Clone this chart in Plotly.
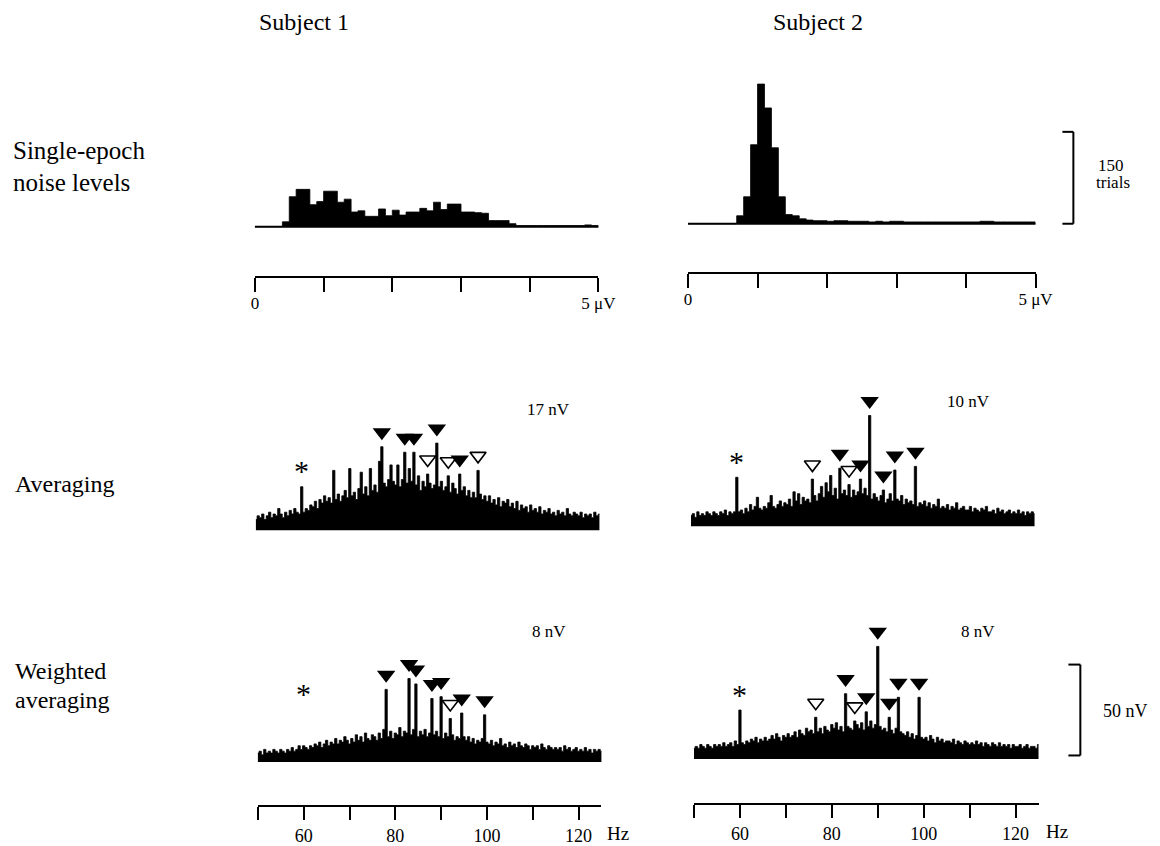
import plotly.graph_objects as go

W, H = 1160, 846          # reference pixel frame used for placing everything
FIG_W, FIG_H = 1177, 846  # rendered figure size (the capture is compressed horizontally)
SERIF = "Liberation Serif, Times New Roman, serif"

# ---------------- data ----------------
# single-epoch noise-level histograms (0.1 uV bins, counts in trials)
hist_bin_centers_uv = [round(0.05 + 0.1 * i, 2) for i in range(50)]
hist_subject1_trials = [0, 0, 0, 0, 8, 49, 61, 61, 36, 41, 58, 58, 40, 45, 24, 26, 17, 17, 29, 18,
                        27, 19, 24, 24, 30, 26, 40, 28, 37, 37, 24, 24, 23, 22, 10, 10, 10, 5, 2, 2,
                        2, 2, 2, 2, 2, 2, 2, 2, 3, 2]
hist_subject2_trials = [0, 0, 0, 0, 0, 0, 0, 13, 44, 129, 228, 189, 124, 44, 15, 13, 8, 6, 5, 5,
                        4, 5, 5, 4, 4, 4, 3, 4, 3, 4, 4, 3, 3, 3, 3, 3, 3, 3, 3, 3,
                        3, 3, 4, 4, 3, 3, 3, 3, 3, 3]
hist_tick_vals = [0, 1, 2, 3, 4, 5]
hist_tick_text = ["0", "", "", "", "", "5 \u03bcV"]

# amplitude spectra, 50-125 Hz in 0.5 Hz steps (nV)
freqs_hz = [50 + 0.5 * i for i in range(151)]
spec_s1_avg = [6, 8, 7, 9, 6, 8, 10, 7, 9, 8, 12,
               9, 7, 10, 8, 11, 9, 12, 10, 9, 24,
               10, 12, 11, 14, 13, 16, 12, 17, 15, 19,
               16, 18, 15, 33, 17, 20, 16, 19, 22, 18,
               34, 19, 21, 17, 23, 32, 20, 24, 19, 34,
               22, 25, 21, 38, 46, 26, 24, 28, 36, 27,
               25, 36, 24, 28, 43, 26, 34, 27, 43, 25,
               30, 22, 27, 24, 31, 26, 23, 25, 48, 24,
               27, 22, 24, 30, 21, 26, 23, 20, 31, 22,
               24, 19, 22, 18, 21, 18, 33, 20, 17, 19,
               16, 19, 15, 17, 14, 18, 13, 16, 15, 17,
               13, 15, 12, 16, 11, 14, 12, 13, 10, 14,
               11, 12, 10, 13, 9, 11, 10, 12, 9, 10,
               8, 11, 9, 10, 8, 12, 9, 8, 10, 9,
               8, 10, 7, 9, 8, 9, 7, 10, 8, 9]
spec_s2_avg = [6, 7, 5, 8, 6, 7, 6, 8, 7, 6, 8,
               7, 6, 8, 7, 9, 6, 8, 7, 8, 27,
               8, 9, 7, 10, 8, 12, 9, 11, 16, 10,
               9, 11, 10, 13, 17, 11, 10, 12, 14, 11,
               13, 12, 15, 11, 19, 14, 18, 12, 16, 14,
               15, 13, 26, 17, 14, 18, 22, 16, 24, 19,
               28, 17, 21, 15, 32, 18, 20, 17, 23, 16,
               20, 17, 19, 26, 18, 21, 17, 61, 15, 18,
               16, 14, 17, 20, 13, 15, 18, 14, 31, 15,
               14, 17, 12, 15, 13, 14, 12, 33, 11, 13,
               12, 14, 11, 13, 10, 12, 11, 15, 10, 11,
               10, 12, 9, 11, 10, 13, 9, 10, 11, 9,
               9, 11, 8, 10, 9, 8, 10, 9, 11, 8,
               8, 9, 7, 10, 8, 9, 7, 8, 9, 7,
               8, 7, 9, 7, 8, 6, 8, 7, 8, 7]
spec_s1_wt = [5, 6, 4, 7, 5, 6, 5, 7, 6, 5, 7,
              6, 5, 7, 6, 8, 6, 7, 9, 7, 9,
              8, 7, 9, 8, 10, 9, 11, 8, 10, 12,
              9, 11, 10, 13, 10, 12, 11, 14, 12, 10,
              13, 11, 15, 12, 14, 11, 16, 13, 12, 15,
              14, 12, 16, 13, 18, 40, 14, 17, 13, 16,
              15, 19, 14, 17, 16, 46, 15, 18, 43, 14,
              17, 15, 18, 14, 16, 35, 15, 17, 14, 36,
              13, 16, 14, 24, 15, 12, 14, 13, 27, 14,
              12, 14, 11, 13, 10, 12, 11, 13, 26, 11,
              10, 12, 9, 11, 10, 13, 9, 10, 8, 11,
              9, 10, 8, 11, 9, 8, 10, 9, 7, 9,
              8, 9, 7, 10, 8, 7, 9, 8, 7, 8,
              7, 8, 6, 9, 7, 8, 6, 7, 8, 6,
              7, 6, 8, 6, 7, 5, 7, 6, 7, 6]
spec_s2_wt = [6, 7, 6, 8, 7, 6, 8, 7, 6, 8, 7,
              8, 7, 9, 7, 8, 9, 7, 10, 8, 27,
              9, 8, 10, 9, 11, 10, 12, 9, 11, 10,
              12, 10, 11, 13, 11, 14, 12, 10, 13, 12,
              14, 12, 13, 15, 12, 16, 14, 13, 17, 15,
              16, 14, 23, 15, 17, 14, 18, 16, 15, 19,
              17, 20, 16, 18, 15, 36, 18, 17, 16, 21,
              19, 17, 20, 16, 26, 18, 21, 17, 19, 62,
              18, 16, 17, 15, 23, 16, 14, 17, 34, 15,
              14, 13, 15, 12, 14, 11, 13, 34, 12, 11,
              12, 10, 13, 11, 9, 12, 10, 11, 9, 10,
              10, 9, 11, 8, 10, 9, 8, 10, 9, 8,
              9, 8, 10, 8, 9, 7, 9, 8, 7, 9,
              8, 7, 9, 7, 8, 7, 8, 6, 8, 7,
              7, 8, 6, 7, 8, 6, 7, 7, 6, 8]
freq_tick_vals = [50, 60, 70, 80, 90, 100, 110, 120]
freq_tick_text = ["", "60", "", "80", "", "100", "", "120"]

# marked spectral peaks (Hz): filled / open triangles
s1_avg_filled = [77.5, 82.5, 84.5, 89.5, 94.5]
s1_avg_open = [87.5, 92.0, 98.5]
s2_avg_filled = [82.5, 87.0, 89.0, 92.0, 94.5, 99.0]
s2_avg_open = [76.5, 84.5]
s1_wt_filled = [78.0, 83.0, 84.5, 88.0, 90.0, 94.5, 99.5]
s1_wt_open = [92.0]
s2_wt_filled = [83.0, 87.5, 90.0, 92.5, 94.5, 99.0]
s2_wt_open = [76.5, 85.0]
line_noise_hz = 60.0

noise_labels = ["17 nV", "10 nV", "8 nV", "8 nV"]

# ---------------- layout helpers ----------------
K_HIST = 92 / 150      # px per trial
K_SPEC = 91 / 50       # px per nV
HIST_TOP = 165
SPEC_TOP = 150
PAD = 3


def px(x):
    return x / W


def py(y):
    return 1 - y / H


# panel geometry (px): x-left, x-right, baseline, (axis line y)
panels = {
    "h1": dict(x0=252, x1=597, base=227, axis=277, k=K_HIST, top=HIST_TOP, xr=[0, 5], step=0.1),
    "h2": dict(x0=687, x1=1036, base=224, axis=273, k=K_HIST, top=HIST_TOP, xr=[0, 5], step=0.1),
    "a1": dict(x0=253, x1=598, base=531, axis=None, k=K_SPEC, top=SPEC_TOP, xr=[50, 125], step=0.5),
    "a2": dict(x0=690, x1=1035, base=527, axis=None, k=K_SPEC, top=SPEC_TOP, xr=[50, 125], step=0.5),
    "w1": dict(x0=255, x1=600, base=763, axis=807, k=K_SPEC, top=SPEC_TOP, xr=[50, 125], step=0.5),
    "w2": dict(x0=693, x1=1039, base=760, axis=805, k=K_SPEC, top=SPEC_TOP, xr=[50, 125], step=0.5),
}
order = ["h1", "h2", "a1", "a2", "w1", "w2"]

fig = go.Figure()
layout = dict(
    width=FIG_W, height=FIG_H, autosize=False,
    margin=dict(l=0, r=0, t=0, b=0, pad=0),
    paper_bgcolor="white", plot_bgcolor="rgba(0,0,0,0)",
    showlegend=False,
    font=dict(family=SERIF, color="black"),
)

for i, key in enumerate(order):
    p = panels[key]
    n = "" if i == 0 else str(i + 1)
    xa, ya = "xaxis" + n, "yaxis" + n
    ydom = [py(p["base"] + PAD), py(p["base"] - p["top"])]
    layout[ya] = dict(domain=ydom, range=[-PAD / p["k"], p["top"] / p["k"]],
                      visible=False, anchor="x" + n, fixedrange=True)
    xd = dict(domain=[px(p["x0"]), px(p["x1"])], range=p["xr"], fixedrange=True,
              showgrid=False, zeroline=False)
    if p["axis"] is None:
        xd.update(visible=False, anchor="y" + n)
    else:
        is_hist = key.startswith("h")
        xd.update(anchor="free", position=py(p["axis"]), showline=True, linecolor="black",
                  linewidth=2, ticks="outside", ticklen=14 if is_hist else 13, tickwidth=2,
                  tickcolor="black",
                  tickvals=hist_tick_vals if is_hist else freq_tick_vals,
                  ticktext=hist_tick_text if is_hist else freq_tick_text,
                  tickfont=dict(family=SERIF, size=17 if is_hist else 18, color="black"))
        if is_hist:
            xd["ticklabelstandoff"] = -3
    layout[xa] = xd
    p["xref"], p["yref"] = "x" + n, "y" + n


def filled_steps(key, centers, vals):
    """Solid black step outline (bins centred on the given x values)."""
    p = panels[key]
    half = p["step"] / 2
    xs = [c - half for c in centers] + [centers[-1] + half]
    ys = list(vals) + [vals[-1]]
    return go.Scatter(x=xs, y=ys, mode="lines", line=dict(shape="hv", color="black", width=0.8),
                      fill="tozeroy", fillcolor="black",
                      xaxis=p["xref"], yaxis=p["yref"], hoverinfo="skip")


# histograms
for key, vals in (("h1", hist_subject1_trials), ("h2", hist_subject2_trials)):
    fig.add_trace(filled_steps(key, hist_bin_centers_uv, vals))

# spectra
spectra = {
    "a1": (spec_s1_avg, s1_avg_filled, s1_avg_open),
    "a2": (spec_s2_avg, s2_avg_filled, s2_avg_open),
    "w1": (spec_s1_wt, s1_wt_filled, s1_wt_open),
    "w2": (spec_s2_wt, s2_wt_filled, s2_wt_open),
}


def value_at(vals, f):
    return vals[int(round((f - 50) * 2))]


MARK_GAP = 8  # nV above peak
for key, (vals, filled, opened) in spectra.items():
    p = panels[key]
    fig.add_trace(filled_steps(key, freqs_hz, vals))
    fig.add_trace(go.Scatter(x=filled, y=[value_at(vals, f) + MARK_GAP for f in filled],
                             mode="markers", cliponaxis=False,
                             marker=dict(symbol="triangle-down", size=16, color="black",
                                         line=dict(width=0)),
                             xaxis=p["xref"], yaxis=p["yref"], hoverinfo="skip"))
    fig.add_trace(go.Scatter(x=opened, y=[value_at(vals, f) + MARK_GAP for f in opened],
                             mode="markers", cliponaxis=False,
                             marker=dict(symbol="triangle-down-open", size=14, color="black",
                                         line=dict(width=1.6, color="black")),
                             xaxis=p["xref"], yaxis=p["yref"], hoverinfo="skip"))

# ---------------- annotations & shapes ----------------
ann = []


def text(x, y, s, size, xanchor="center", yanchor="middle"):
    ann.append(dict(x=px(x), y=py(y), xref="paper", yref="paper", text=s, showarrow=False,
                    xanchor=xanchor, yanchor=yanchor, borderpad=0,
                    font=dict(family=SERIF, size=size, color="black")))


text(301, 22, "Subject 1", 24)
text(818, 22, "Subject 2", 24)
text(8, 151, "Single-epoch", 25, xanchor="left")
text(8, 183, "noise levels", 25, xanchor="left")
text(10, 485, "Averaging", 24, xanchor="left")
text(10, 672, "Weighted", 24, xanchor="left")
text(10, 701, "averaging", 24, xanchor="left")
text(1112, 166, "150", 17)
text(1114, 183, "trials", 17)
text(1103, 712, "50 nV", 18, xanchor="left")
text(605, 834, "Hz", 19, xanchor="left")
text(1046, 832, "Hz", 19, xanchor="left")
for key, lab, (lx, ly) in zip(["a1", "a2", "w1", "w2"], noise_labels,
                              [(547, 410), (969, 402), (547, 632), (978, 632)]):
    text(lx, ly, lab, 17)

# asterisks marking line noise (60 Hz)
star_nv = {"a1": 35, "a2": 38, "w1": 40, "w2": 38}
for key in ["a1", "a2", "w1", "w2"]:
    p = panels[key]
    ann.append(dict(x=line_noise_hz, y=star_nv[key], xref=p["xref"], yref=p["yref"], text="*",
                    showarrow=False, xanchor="center", yanchor="middle", yshift=-4,
                    font=dict(family=SERIF, size=30, color="black")))

shapes = []


def data_to_py(key, v):
    p = panels[key]
    return p["base"] - v * p["k"]


def data_to_px(key, xv):
    p = panels[key]
    lo, hi = p["xr"]
    return p["x0"] + (xv - lo) / (hi - lo) * (p["x1"] - p["x0"])


def seg(x0, y0, x1, y1, w=2):
    shapes.append(dict(type="line", xref="paper", yref="paper", x0=px(x0), y0=py(y0),
                       x1=px(x1), y1=py(y1), line=dict(color="black", width=w)))


# histogram baselines
for key in ["h1", "h2"]:
    yb = data_to_py(key, 0)
    seg(data_to_px(key, 0), yb, data_to_px(key, 5), yb, 2)

# 150 trials scale bar (in subject-2 histogram units)
sb_x = 1074
y0, y1 = data_to_py("h2", 0), data_to_py("h2", 150)
seg(sb_x, y0, sb_x, y1, 2)
seg(sb_x - 11, y1, sb_x, y1, 2)
seg(sb_x - 11, y0, sb_x, y0, 2)

# 50 nV scale bar (spectrum units)
sb_x = 1081
y0, y1 = data_to_py("w2", 2), data_to_py("w2", 52)
seg(sb_x, y0, sb_x, y1, 2)
seg(sb_x - 12, y1, sb_x, y1, 2)
seg(sb_x - 12, y0, sb_x, y0, 2)

layout["annotations"] = ann
layout["shapes"] = shapes
fig.update_layout(**layout)

fig.write_html(
    "out.html", config={"displayModeBar": False},
    post_script=("document.documentElement.style.overflow='hidden';"
                 "document.body.style.margin='0px';"
                 "document.body.style.overflow='hidden';"))
